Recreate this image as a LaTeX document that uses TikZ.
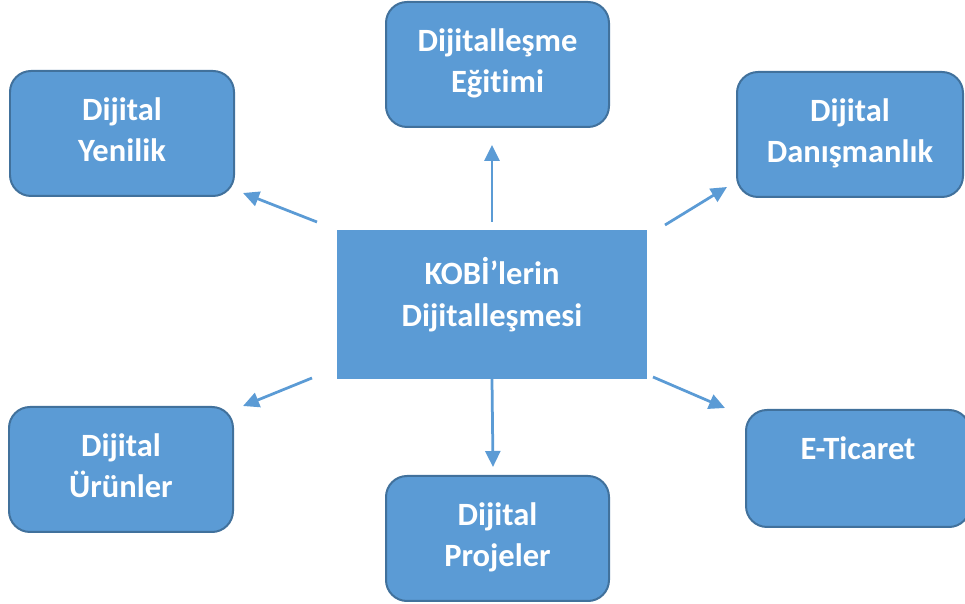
\documentclass[tikz,border=0pt]{standalone}
\usepackage{fontspec}
\setmainfont{Carlito}[Ligatures=NoCommon]
\usetikzlibrary{positioning,arrows.meta}

\definecolor{boxblue}{HTML}{5B9BD5}
\definecolor{boxline}{HTML}{41719C}

\tikzset{
    box/.style={rectangle, rounded corners=0.42cm, draw=boxline, line width=0.04cm,
        fill=boxblue, inner sep=0pt, outer sep=0pt, minimum width=224*0.02cm, minimum height=125*0.02cm},
    core/.style={rectangle, fill=boxblue, inner sep=0pt, outer sep=0pt,
        minimum width=310*0.02cm, minimum height=149*0.02cm},
    lbl/.style={text=white, font=\bfseries\fontsize{18.5}{23.8}\selectfont, align=center, inner sep=0pt},
    arr/.style={-{Triangle[length=0.32cm, width=0.3cm]}, draw=boxblue, line width=0.055cm}
}

\begin{document}
\begin{tikzpicture}[x=0.02cm, y=-0.02cm, node distance=0.52cm]
    \useasboundingbox (0,0) rectangle (965,604);

    % middle box
    \node (kobi) [core] at (492,304.5) {};
    \node (kobi-t) [lbl, below=0.54cm of kobi.north] {KOBİ’lerin\\Dijitalleşmesi};

    % outer boxes
    \node (egt) [box, minimum width=223*0.02cm] at (497.5,64.5) {};
    \node (yen) [box] at (122,133.5) {};
    \node (dan) [box, minimum width=226*0.02cm] at (850,134.5) {};
    \node (urn) [box] at (121,469.5) {};
    \node (prj) [box, minimum width=223*0.02cm] at (497.5,538.5) {};
    \node (eti) [box, minimum height=117*0.02cm] at (858,468.5) {};

    \node (egt-t) [lbl, below=of egt.north] {Dijitalleşme\\Eğitimi};
    \node (yen-t) [lbl, below=of yen.north] {Dijital\\Yenilik};
    \node (dan-t) [lbl, below=of dan.north] {Dijital\\Danışmanlık};
    \node (urn-t) [lbl, below=of urn.north] {Dijital\\Ürünler};
    \node (prj-t) [lbl, below=of prj.north] {Dijital\\Projeler};
    \node (eti-t) [lbl, below=of eti.north] {E-Ticaret};

    % arrows
    \draw [arr] ([shift={(0,-8)}]kobi.north) -- ([shift={(-5.5,18)}]egt.south);
    \draw [arr] ([shift={(-20,-8)}]kobi.north west) -- ([shift={(9,-3)}]yen.south east);
    \draw [arr] ([shift={(18,-5)}]kobi.north east) -- ([shift={(-10,-10)}]dan.south west);
    \draw [arr] ([shift={(-25,-1)}]kobi.south west) -- ([shift={(10,-1)}]urn.north east);
    \draw [arr] (kobi.south) -- ([shift={(-4.5,-9)}]prj.north);
    \draw [arr] ([shift={(6,-2)}]kobi.south east) -- ([shift={(-21,-2)}]eti.north west);
\end{tikzpicture}
\end{document}
